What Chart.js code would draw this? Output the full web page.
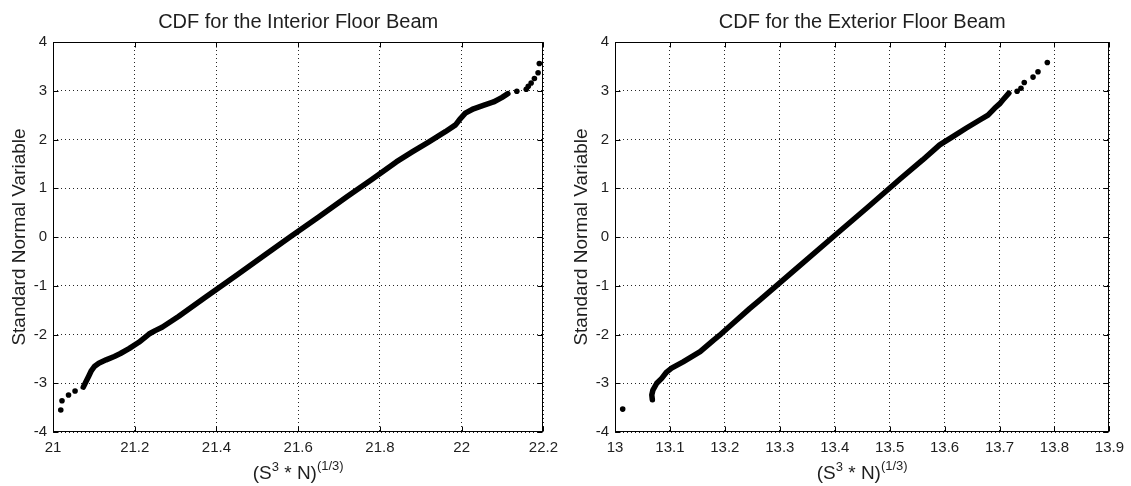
<!DOCTYPE html>
<html>
<head>
<meta charset="utf-8">
<script src="https://cdn.jsdelivr.net/npm/chart.js@4.4.1/dist/chart.umd.min.js"></script>
<style>
  html, body { margin: 0; padding: 0; background: #fff; }
  #wrap { position: relative; width: 1131px; height: 486px; overflow: hidden; }
  .panel { position: absolute; top: 0; height: 486px; }
  #p1 { left: 0; width: 565px; }
  #p2 { left: 565px; width: 566px; }
</style>
</head>
<body>
<div id="wrap">
  <div class="panel" id="p1"><canvas id="c1"></canvas></div>
  <div class="panel" id="p2"><canvas id="c2"></canvas></div>
</div>
<script>
// ---------- Data ----------
const titleInterior = 'CDF for the Interior Floor Beam';
const titleExterior = 'CDF for the Exterior Floor Beam';
const yAxisLabel = 'Standard Normal Variable';

const yTicks = [-4, -3, -2, -1, 0, 1, 2, 3, 4];
const yTickLabels = ['-4', '-3', '-2', '-1', '0', '1', '2', '3', '4'];

const xTicksInterior = [21, 21.2, 21.4, 21.6, 21.8, 22, 22.2];
const xTickLabelsInterior = ['21', '21.2', '21.4', '21.6', '21.8', '22', '22.2'];
const xTicksExterior = [13, 13.1, 13.2, 13.3, 13.4, 13.5, 13.6, 13.7, 13.8, 13.9];
const xTickLabelsExterior = ['13', '13.1', '13.2', '13.3', '13.4', '13.5', '13.6', '13.7', '13.8', '13.9'];

// Interior beam: densely packed part of the sample (x values, y values)
const interiorDenseX = [21.074, 21.080, 21.087, 21.094, 21.102, 21.112, 21.130, 21.150, 21.165, 21.186,
  21.210, 21.235, 21.250, 21.267, 21.307, 21.372, 21.450, 21.520, 21.580, 21.650,
  21.720, 21.780, 21.840, 21.880, 21.920, 21.960, 21.985, 21.997, 22.009, 22.029,
  22.053, 22.078, 22.098, 22.113];
const interiorDenseY = [-3.08, -2.98, -2.86, -2.74, -2.65, -2.59, -2.52, -2.45, -2.39, -2.29,
  -2.16, -1.99, -1.92, -1.85, -1.63, -1.24, -0.78, -0.36, 0.00, 0.41,
  0.83, 1.18, 1.54, 1.75, 1.95, 2.16, 2.30, 2.43, 2.54, 2.63,
  2.70, 2.77, 2.86, 2.94];
// Interior beam: isolated tail points
const interiorTailX = [21.019, 21.022, 21.038, 21.054, 22.135, 22.158, 22.163, 22.170, 22.178, 22.187, 22.190];
const interiorTailY = [-3.55, -3.36, -3.24, -3.16, 2.99, 3.03, 3.09, 3.16, 3.25, 3.37, 3.56];

// Exterior beam: densely packed part
const exteriorDenseX = [13.068, 13.067, 13.069, 13.076, 13.085, 13.094, 13.103, 13.124, 13.155, 13.179,
  13.190, 13.197, 13.215, 13.245, 13.264, 13.330, 13.400, 13.460, 13.520, 13.560,
  13.591, 13.615, 13.639, 13.664, 13.679, 13.691, 13.700, 13.706, 13.717];
const exteriorDenseY = [-3.34, -3.24, -3.14, -3.00, -2.90, -2.77, -2.69, -2.56, -2.35, -2.12,
  -2.02, -1.95, -1.77, -1.47, -1.29, -0.65, 0.03, 0.61, 1.20, 1.58,
  1.89, 2.06, 2.23, 2.40, 2.50, 2.64, 2.73, 2.81, 2.95];
// Exterior beam: isolated tail points
const exteriorTailX = [13.014, 13.732, 13.739, 13.745, 13.761, 13.770, 13.787];
const exteriorTailY = [-3.53, 2.99, 3.05, 3.17, 3.28, 3.39, 3.58];

// ---------- Rendering ----------
const FONT = '"Liberation Sans", Arial, Helvetica, sans-serif';
const TEXT = '#1e1e1e';

function pts(xs, ys) { return xs.map((x, i) => ({ x: x, y: ys[i] })); }

const framePlugin = {
  id: 'matlabFrame',
  afterDraw(chart) {
    const { ctx, chartArea: a, scales } = chart;
    const L = Math.round(a.left) + 0.5, R = Math.round(a.right) - 0.5;
    const T = Math.round(a.top) + 0.5, B = Math.round(a.bottom) - 0.5;
    ctx.save();
    ctx.strokeStyle = '#000';
    ctx.lineWidth = 1;
    ctx.setLineDash([]);
    ctx.strokeRect(L, T, R - L, B - T);
    // inward tick marks
    const tl = 5;
    ctx.beginPath();
    scales.x.ticks.forEach(t => {
      const px = Math.round(scales.x.getPixelForValue(t.value)) + 0.5;
      ctx.moveTo(px, B); ctx.lineTo(px, B - tl);
      ctx.moveTo(px, T); ctx.lineTo(px, T + tl);
    });
    scales.y.ticks.forEach(t => {
      const py = Math.round(scales.y.getPixelForValue(t.value)) + 0.5;
      ctx.moveTo(L, py); ctx.lineTo(L + tl, py);
      ctx.moveTo(R, py); ctx.lineTo(R - tl, py);
    });
    ctx.stroke();
    // x-axis label with superscripts: (S^3 * N)^(1/3)
    const parts = [
      { t: '(S', s: 19, dy: 0 },
      { t: '3', s: 13, dy: -8 },
      { t: ' * N)', s: 19, dy: 0 },
      { t: '(1/3)', s: 13, dy: -9 }
    ];
    let total = 0;
    parts.forEach(p => { ctx.font = p.s + 'px ' + FONT; p.w = ctx.measureText(p.t).width; total += p.w; });
    let x = (a.left + a.right) / 2 - total / 2;
    const base = 479;
    ctx.fillStyle = TEXT;
    ctx.textBaseline = 'alphabetic';
    ctx.textAlign = 'left';
    parts.forEach(p => {
      ctx.font = p.s + 'px ' + FONT;
      ctx.fillText(p.t, x, base + p.dy);
      x += p.w;
    });
    ctx.restore();
  }
};

function makeChart(canvasId, cfg) {
  const xt = cfg.xTicks, xl = cfg.xLabels;
  return new Chart(document.getElementById(canvasId), {
    type: 'scatter',
    data: {
      datasets: [
        {
          data: pts(cfg.denseX, cfg.denseY),
          showLine: true,
          borderColor: '#000',
          backgroundColor: '#000',
          borderWidth: 5.5,
          borderCapStyle: 'round',
          borderJoinStyle: 'round',
          pointRadius: 0,
          tension: 0
        },
        {
          data: pts(cfg.tailX, cfg.tailY),
          showLine: false,
          backgroundColor: '#000',
          borderColor: '#000',
          borderWidth: 0,
          pointRadius: 2.8
        }
      ]
    },
    options: {
      responsive: true,
      maintainAspectRatio: false,
      animation: false,
      events: [],
      layout: { padding: { left: 0, right: cfg.padRight, top: 0, bottom: 0 } },
      plugins: {
        legend: { display: false },
        tooltip: { enabled: false },
        title: {
          display: true,
          text: cfg.title,
          fullSize: false,
          color: TEXT,
          font: { family: FONT, size: 20, weight: 'normal', lineHeight: 1.2 },
          padding: { top: 10, bottom: 8 }
        }
      },
      scales: {
        x: {
          type: 'linear',
          min: xt[0],
          max: xt[xt.length - 1],
          afterBuildTicks: s => { s.ticks = xt.map(v => ({ value: v })); },
          afterFit: s => { s.height = 54; },
          ticks: {
            autoSkip: false,
            maxRotation: 0,
            color: TEXT,
            padding: 7,
            font: { family: FONT, size: 15 },
            callback: (v, i) => xl[i]
          },
          grid: { color: 'rgba(0,0,0,0.85)', lineWidth: 1, drawTicks: false },
          border: { display: false, dash: [1, 3] }
        },
        y: {
          type: 'linear',
          min: yTicks[0],
          max: yTicks[yTicks.length - 1],
          afterBuildTicks: s => { s.ticks = yTicks.map(v => ({ value: v })); },
          afterFit: s => { s.width = cfg.yWidth; },
          ticks: {
            autoSkip: false,
            color: TEXT,
            padding: 6,
            font: { family: FONT, size: 15 },
            callback: (v, i) => yTickLabels[i]
          },
          title: {
            display: true,
            text: yAxisLabel,
            color: TEXT,
            font: { family: FONT, size: 19, weight: 'normal', lineHeight: 1.2 },
            padding: { top: cfg.yTitlePad, bottom: 0 }
          },
          grid: { color: 'rgba(0,0,0,0.85)', lineWidth: 1, drawTicks: false },
          border: { display: false, dash: [1, 3] }
        }
      }
    },
    plugins: [framePlugin]
  });
}

makeChart('c1', {
  title: titleInterior,
  xTicks: xTicksInterior, xLabels: xTickLabelsInterior,
  denseX: interiorDenseX, denseY: interiorDenseY,
  tailX: interiorTailX, tailY: interiorTailY,
  padRight: 16, yWidth: 53, yTitlePad: 8
});
makeChart('c2', {
  title: titleExterior,
  xTicks: xTicksExterior, xLabels: xTickLabelsExterior,
  denseX: exteriorDenseX, denseY: exteriorDenseY,
  tailX: exteriorTailX, tailY: exteriorTailY,
  padRight: 21, yWidth: 50, yTitlePad: 5
});
</script>
</body>
</html>
